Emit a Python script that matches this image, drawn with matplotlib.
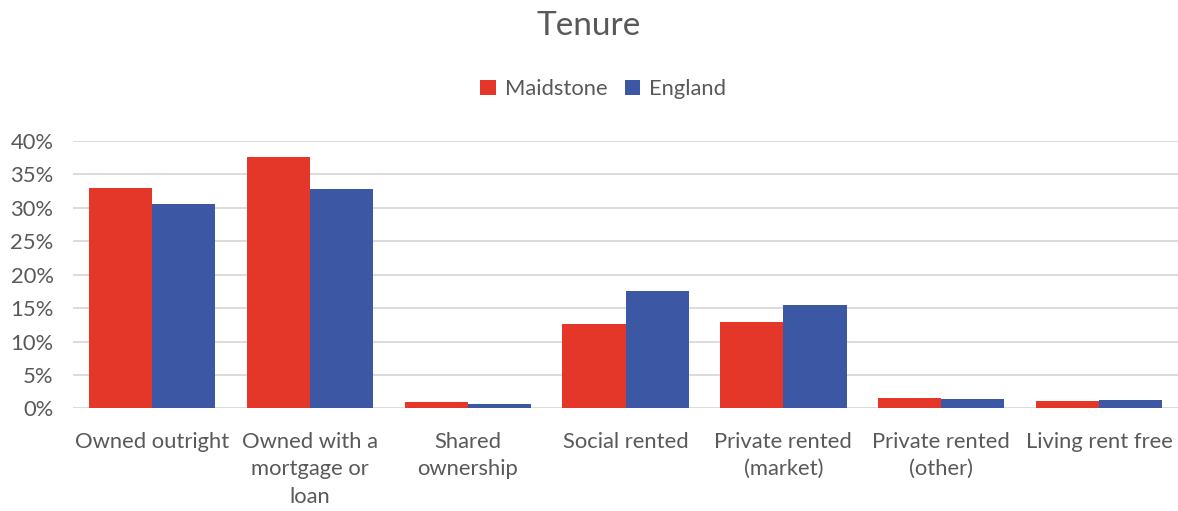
import matplotlib.pyplot as plt
import numpy as np

categories = ['Owned outright', 'Owned with a\nmortgage or\nloan', 'Shared\nownership',
              'Social rented', 'Private rented\n(market)', 'Private rented\n(other)',
              'Living rent free']
maidstone = [32.9, 37.6, 0.95, 12.65, 12.9, 1.5, 1.1]
england = [30.6, 32.8, 0.65, 17.6, 15.4, 1.35, 1.3]

plt.rcParams['font.family'] = ['Lato', 'DejaVu Sans']
text_col = '#595959'

fig = plt.figure(figsize=(11.78, 5.11), dpi=100)
ax = fig.add_axes([0.062, 0.2006, 0.938, 0.524])

x = np.arange(len(categories))
w = 0.4
ax.bar(x - w / 2, maidstone, w, color='#E5362A', label='Maidstone', zorder=3)
ax.bar(x + w / 2, england, w, color='#3C57A3', label='England', zorder=3)

ax.set_xlim(-0.5, len(categories) - 0.5)
ax.set_ylim(0, 40)
ax.set_yticks(np.arange(0, 41, 5))
ax.set_yticklabels([f'{v}%' for v in range(0, 41, 5)])
ax.set_xticks(x)
ax.set_xticklabels(categories, va='top', ha='center', linespacing=1.45)
ax.tick_params(axis='both', length=0, labelsize=15.8, colors=text_col)
ax.tick_params(axis='x', pad=17)
ax.tick_params(axis='y', pad=14)
ax.yaxis.grid(True, color='#D9D9D9', linewidth=1.3, zorder=0)
for s in ax.spines.values():
    s.set_visible(False)

fig.text(0.5, 0.95, 'Tenure', ha='center', va='center', fontsize=24, color=text_col)
fig.legend(loc='center', bbox_to_anchor=(0.512, 0.826), ncol=2, frameon=False,
           fontsize=15.8, labelcolor=text_col, handlelength=0.7, handleheight=0.7,
           handletextpad=0.4, columnspacing=0.8)

fig.savefig('out.png', dpi=100)
